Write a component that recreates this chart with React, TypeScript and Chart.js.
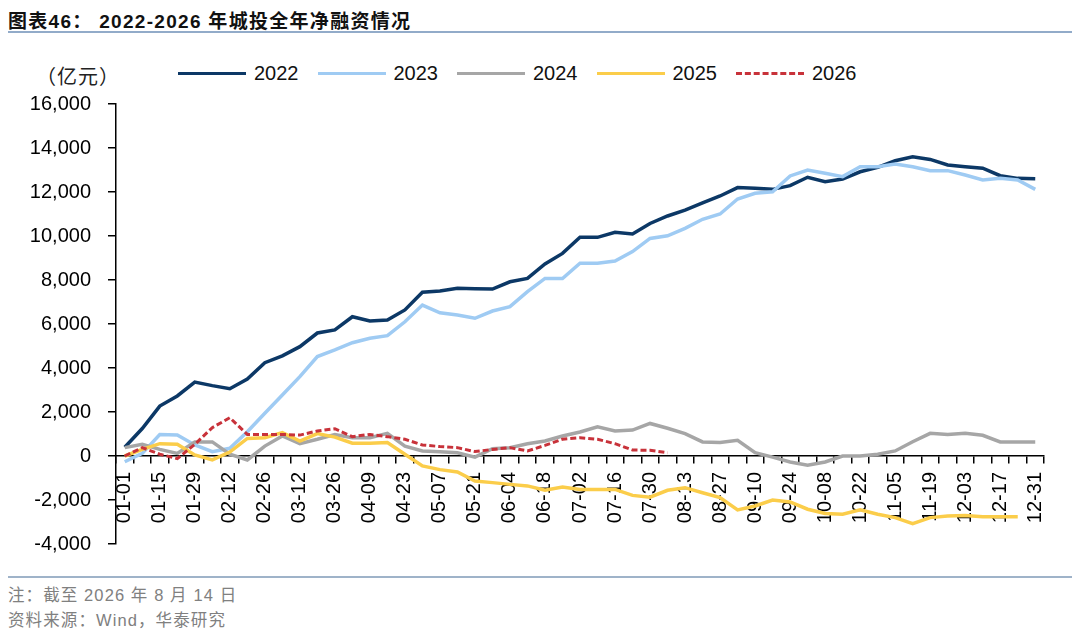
import React, { useEffect, useRef } from 'react';
import Chart from 'chart.js/auto';

// weekly points, 2 weeks per label
const weeks = [
  '01-01', '01-08', '01-15', '01-22', '01-29', '02-05', '02-12', '02-19', '02-26', '03-05',
  '03-12', '03-19', '03-26', '04-02', '04-09', '04-16', '04-23', '04-30', '05-07', '05-14',
  '05-21', '05-28', '06-04', '06-11', '06-18', '06-25', '07-02', '07-09', '07-16', '07-23',
  '07-30', '08-06', '08-13', '08-20', '08-27', '09-03', '09-10', '09-17', '09-24', '10-01',
  '10-08', '10-15', '10-22', '10-29', '11-05', '11-12', '11-19', '11-26', '12-03', '12-10',
  '12-17', '12-24', '12-31',
];

const y2022 = [
  400, 1250, 2270, 2730, 3360, 3200, 3060, 3500, 4240, 4550,
  4970, 5590, 5730, 6330, 6140, 6180, 6640, 7440, 7500, 7620,
  7600, 7590, 7920, 8070, 8730, 9210, 9940, 9940, 10170, 10090,
  10570, 10910, 11180, 11510, 11820, 12200, 12170, 12120, 12290, 12670,
  12470, 12590, 12920, 13120, 13420, 13600, 13480, 13230, 13150, 13080,
  12740, 12620, 12600,
];
const y2023 = [
  -260, 120, 980, 950, 500, 200, 350, 1100, 1940, 2770,
  3610, 4520, 4820, 5150, 5350, 5470, 6100, 6860, 6510, 6410,
  6260, 6590, 6790, 7470, 8070, 8070, 8760, 8760, 8860, 9290,
  9890, 10010, 10350, 10760, 11000, 11680, 11940, 12010, 12730, 13000,
  12850, 12700, 13150, 13150, 13270, 13150, 12970, 12970, 12770, 12550,
  12620, 12550, 12120,
];
const y2024 = [
  380, 530, 300, 120, 640, 640, 80, -180, 450, 910,
  560, 760, 980, 830, 830, 1030, 450, 230, 190, 150,
  -50, 330, 380, 560, 680, 910, 1090, 1330, 1140, 1180,
  1480, 1260, 1020, 640, 610, 710, 150, -50, -270, -420,
  -270, 0, 0, 80, 230, 650, 1030, 980, 1030, 940,
  640, 640, 640,
];
const y2025 = [
  0, 300, 560, 530, 50, -180, 180, 800, 830, 1060,
  680, 1020, 860, 580, 580, 610, 80, -450, -620, -730,
  -1140, -1210, -1290, -1360, -1560, -1410, -1520, -1520, -1520, -1790,
  -1870, -1560, -1440, -1670, -1890, -2450, -2270, -2000, -2090, -2420,
  -2610, -2650, -2450, -2650, -2800, -3070, -2800, -2730, -2700, -2760,
  -2760, -2760, null,
];
// 截至 8 月 14 日
const y2026 = [
  0, 380, 80, -120, 530, 1290, 1740, 980, 980, 980,
  950, 1140, 1240, 880, 980, 880, 760, 500, 430, 380,
  200, 300, 380, 230, 480, 760, 830, 760, 560, 270,
  260, 150,
];

const series = [
  { label: '2022', data: y2022, color: '#0c3866', width: 3.5, dash: [] as number[] },
  { label: '2023', data: y2023, color: '#9fcbf3', width: 3.5, dash: [] as number[] },
  { label: '2024', data: y2024, color: '#a6a6a6', width: 3.5, dash: [] as number[] },
  { label: '2025', data: y2025, color: '#fbcd4a', width: 3.5, dash: [] as number[] },
  { label: '2026', data: y2026, color: '#c8323a', width: 3, dash: [6, 3] },
];

const FONT = '"Liberation Sans", Arial, "Noto Sans CJK SC", sans-serif';

export default function App() {
  const chartRef = useRef<HTMLCanvasElement>(null);

  useEffect(() => {
    if (!chartRef.current) return;
    const ctx = chartRef.current.getContext('2d');
    if (!ctx) return;

    const chart = new Chart(ctx, {
      type: 'line',
      data: {
        labels: weeks,
        datasets: series.map((s, i) => ({
          label: s.label,
          data: s.data,
          borderColor: s.color,
          backgroundColor: s.color,
          borderWidth: s.width,
          borderDash: s.dash,
          pointRadius: 0,
          tension: 0,
          fill: false,
          order: series.length - i,
        })),
      },
      options: {
        animation: false,
        responsive: true,
        maintainAspectRatio: false,
        layout: { padding: { top: 14, right: 36, bottom: 26, left: 0 } },
        plugins: {
          legend: { display: false },
          tooltip: { enabled: false },
        },
        scales: {
          x: {
            type: 'category',
            position: { y: 0 },
            offset: true,
            grid: {
              display: true,
              offset: true,
              drawOnChartArea: false,
              drawTicks: true,
              tickLength: 7,
              color: '#000',
              lineWidth: 1.5,
            },
            border: { display: true, color: '#000', width: 1.5 },
            ticks: {
              autoSkip: false,
              minRotation: 90,
              maxRotation: 90,
              padding: 9,
              color: '#000',
              font: { family: FONT, size: 20 },
              callback: (_v, i) => (i % 2 === 0 ? weeks[i] : ''),
            },
            afterFit: (scale) => {
              scale.height = 0;
            },
          },
          y: {
            min: -4000,
            max: 16000,
            grid: {
              drawOnChartArea: false,
              drawTicks: true,
              tickLength: 8,
              color: '#000',
              lineWidth: 1.5,
            },
            border: { display: true, color: '#000', width: 1.5 },
            ticks: {
              stepSize: 2000,
              padding: 17,
              color: '#000',
              font: { family: FONT, size: 20 },
              callback: (v) => Number(v).toLocaleString('en-US'),
            },
            afterFit: (scale) => {
              // fixed axis width, and no extra room above/below for the end labels
              scale.width = 116;
              scale.paddingTop = 0;
              scale.paddingBottom = 0;
            },
          },
        },
      },
    });

    return () => {
      chart.destroy();
    };
  }, []);

  return (
    <div style={{ position: 'absolute', left: 0, top: 0, width: 1080, height: 635, background: '#fff', overflow: 'hidden' }}>
      <div style={{ position: 'absolute', left: 8, top: 6, fontFamily: FONT, fontWeight: 'bold', fontSize: 19, color: '#111', whiteSpace: 'nowrap', letterSpacing: 1.3 }}>
        图表46： 2022-2026 年城投全年净融资情况
      </div>
      <div style={{ position: 'absolute', left: 8, top: 31, width: 1064, height: 2, background: '#92abc9' }} />

      <div style={{ position: 'absolute', left: 36, top: 61, fontFamily: FONT, fontSize: 20, color: '#222', whiteSpace: 'nowrap', letterSpacing: 1 }}>
        （亿元）
      </div>
      <div style={{ position: 'absolute', left: 178, top: 62, display: 'flex', alignItems: 'center', fontFamily: FONT, fontSize: 20, color: '#111' }}>
        {series.map((s) => (
          <div key={s.label} style={{ display: 'flex', alignItems: 'center', width: 139.5 }}>
            <div
              style={{
                width: 68,
                height: 0,
                borderTop: `3.5px ${s.dash.length ? 'dashed' : 'solid'} ${s.color}`,
                marginRight: 8,
              }}
            />
            <span>{s.label}</span>
          </div>
        ))}
      </div>

      <div style={{ position: 'absolute', left: 0, top: 90, width: 1080, height: 480 }}>
        <canvas ref={chartRef}></canvas>
      </div>

      <div style={{ position: 'absolute', left: 8, top: 576, width: 1064, height: 2, background: '#9fb3c9' }} />
      <div style={{ position: 'absolute', left: 8, top: 583, fontFamily: FONT, fontSize: 16.5, color: '#808080', whiteSpace: 'nowrap', lineHeight: '25px', letterSpacing: 1.1 }}>
        <div>注：截至 2026 年 8 月 14 日</div>
        <div>资料来源：Wind，华泰研究</div>
      </div>
    </div>
  );
}
